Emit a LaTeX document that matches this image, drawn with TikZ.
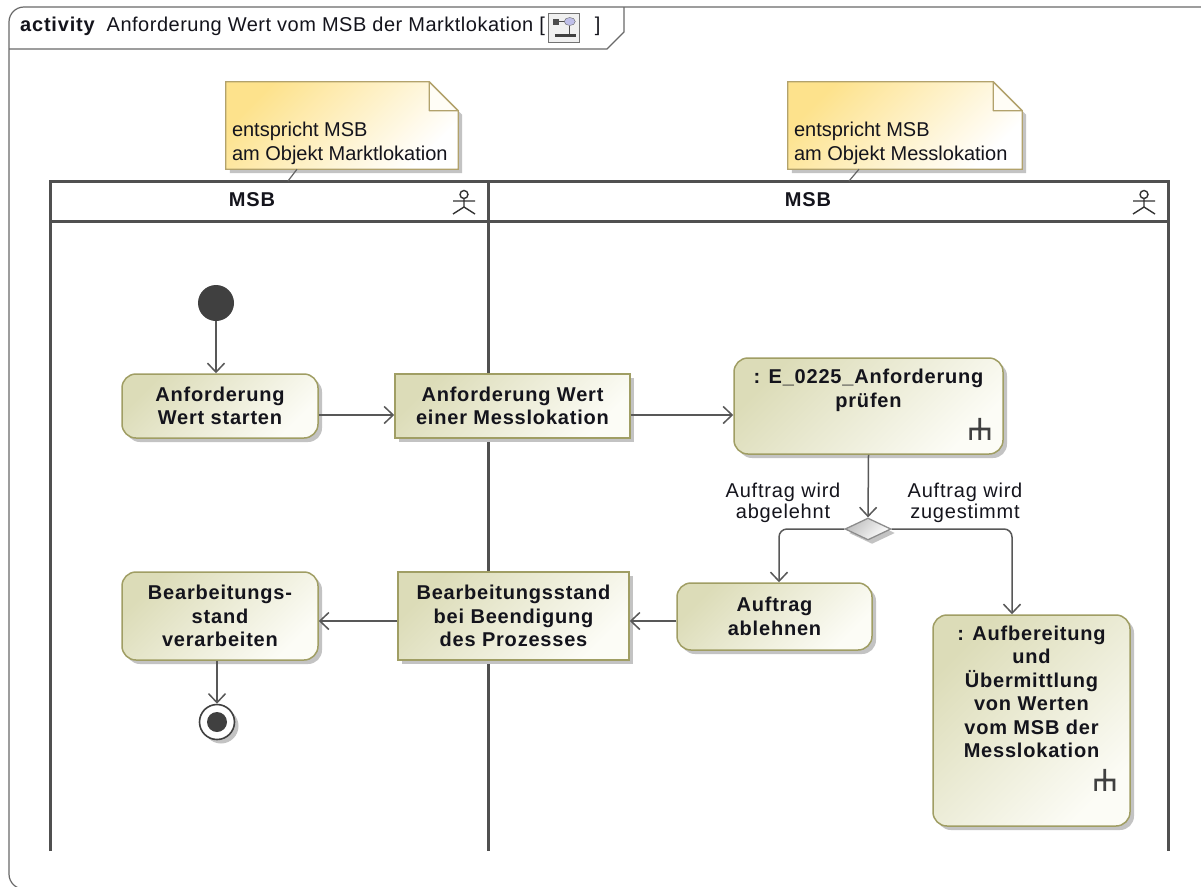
\documentclass[tikz,border=0pt]{standalone}
\usepackage{fontspec}
\setmainfont{Liberation Sans}
\newfontfamily\spacedfont[LetterSpace=4]{Liberation Sans}
\newfontfamily\titlefont[LetterSpace=2.5]{Liberation Sans}
\usetikzlibrary{arrows.meta,shapes.geometric,shadows,calc}
\pgfdeclarelayer{bg}
\pgfsetlayers{bg,main}
\definecolor{actborder}{RGB}{160,158,100}
\definecolor{actfill}{RGB}{220,220,184}
\definecolor{actlight}{RGB}{252,252,246}
\definecolor{shadowcol}{RGB}{195,195,195}
\definecolor{notecol}{RGB}{253,226,140}
\definecolor{noteborder}{RGB}{178,162,108}
\definecolor{lanecol}{RGB}{80,80,80}
\definecolor{linecol}{RGB}{88,88,88}
\definecolor{txt}{RGB}{20,20,28}
\definecolor{framecol}{RGB}{105,105,105}
\definecolor{initcol}{RGB}{64,64,64}
\tikzset{
  boldtxt/.style={font=\fontsize{20}{23.5}\selectfont\spacedfont\bfseries, text=txt},
  shadowed/.style={drop shadow={shadow xshift=4pt,shadow yshift=-4pt,fill=shadowcol,opacity=1}},
  action/.style={boldtxt, draw=actborder, line width=1.5pt, rounded corners=14pt,
    top color=actfill, bottom color=actlight, shading angle=45, shadowed,
    align=center, inner sep=0pt},
  objnode/.style={action, sharp corners},
  decision/.style={diamond, draw=black!45, line width=1.3pt, top color=black!25,
    bottom color=white, shading angle=45, shadowed, minimum width=46pt,
    minimum height=22pt, inner sep=0pt},
  initst/.style={circle, fill=initcol, minimum size=36pt, inner sep=0pt},
  finalst/.style={circle, draw=initcol, line width=1.6pt, fill=white, shadowed,
    minimum size=35pt, inner sep=0pt,
    path picture={\fill[initcol] (path picture bounding box.center) circle (10pt);}},
  flow/.style={draw=linecol, line width=1.5pt,
    -{Straight Barb[length=9pt,width=17pt]}},
  lbl/.style={font=\fontsize{20}{21.5}\selectfont\spacedfont, text=txt, align=center, inner sep=0pt},
  hdr/.style={boldtxt, inner sep=0pt},
  notetext/.style={font=\fontsize{20}{24}\selectfont, text=txt, inner sep=0pt},
  notefill/.style={draw=noteborder, line width=1.3pt, top color=notecol,
    bottom color=white, shading angle=45, shadowed},
  notelink/.style={draw=black!60, line width=1.2pt},
  lane/.style={draw=lanecol, line width=3pt},
  framel/.style={draw=framecol, line width=1.2pt},
  actor/.pic={\draw[line width=1.4pt, draw=black!80] (0,-8.5) circle (4pt)
     (0,-4.5)--(0,4) (-11,-2)--(11,-2) (-11,11)--(0,4)--(11,11);},
  rake/.pic={\fill[black!75] (-1.3,0) rectangle (1.3,-22)
     (-10.5,-9.5) rectangle (10.5,-12.2)
     (-10.5,0) rectangle (-7.9,-11) (7.9,0) rectangle (10.5,-11);}
}
\begin{document}
\begin{tikzpicture}[x=1pt,y=-1pt]
\useasboundingbox (0,0) rectangle (1201,886);
\clip (0,0) rectangle (1201,886);
\begin{pgfonlayer}{bg}
\fill[white] (0,0) rectangle (1201,886);
\end{pgfonlayer}

% frame and title tab
\draw[framel, rounded corners=15pt] (9,889) -- (9,7) -- (1216,7) -- (1216,889) -- cycle;
\draw[framel] (9,49) -- (607,49) -- (624,32) -- (624,7);
\node[anchor=west, inner sep=0pt, text=txt, font=\fontsize{20}{24}\selectfont\titlefont] (title) at (20,26)
  {{\spacedfont\bfseries activity}\hspace{12pt}Anforderung Wert vom MSB der Marktlokation [\hspace{50pt}]};
\coordinate (ic) at ($(title.east)+(-37,1.5)$);
\begin{scope}[shift={(ic)}]
  \draw[black!55, line width=1pt, fill=black!6] (-15.5,-14.5) rectangle (15.5,14.5);
  \fill[black!70] (-11,-9) rectangle (-5,-3);
  \draw[black!70, line width=1pt] (-5,-6) -- (1,-6);
  \draw[black!60, fill=black!35!blue!25] (6,-6) ellipse (5.5pt and 4pt);
  \draw[black!70, line width=1.2pt] (6,-2) -- (6,6);
  \draw[black!75, line width=2.5pt] (-9,8) -- (12,8);
\end{scope}

% swimlanes
\draw[lane] (50,851) -- (50,181) -- (1168,181) -- (1168,851);
\draw[lane] (488,181) -- (488,851);
\draw[lane] (50,221) -- (1168,221);
\node[hdr] (h1) at (252,200) {MSB};
\node[hdr] (h2) at (808,200) {MSB};
\pic at (464,203) {actor};
\pic at (1144,203) {actor};

% notes
\node[notetext, minimum width=232pt, minimum height=87pt] (n1) at (342,125.5)
  {\parbox[c][75pt][b]{220pt}{\raggedright entspricht MSB\\am Objekt Marktlokation}};
\node[notetext, minimum width=234pt, minimum height=87pt] (n2) at (905,125.5)
  {\parbox[c][75pt][b]{222pt}{\raggedright entspricht MSB\\am Objekt Messlokation}};
\begin{pgfonlayer}{bg}
\path[notefill] (n1.north west) -- ([xshift=-29pt]n1.north east) -- ([yshift=-29pt]n1.north east) -- (n1.south east) -- (n1.south west) -- cycle;
\path[notefill] (n2.north west) -- ([xshift=-29pt]n2.north east) -- ([yshift=-29pt]n2.north east) -- (n2.south east) -- (n2.south west) -- cycle;
\end{pgfonlayer}
\filldraw[draw=noteborder, fill=white!92!notecol, line width=1.3pt, line join=round]
  ([xshift=-29pt]n1.north east) |- ([yshift=-29pt]n1.north east) -- cycle;
\filldraw[draw=noteborder, fill=white!92!notecol, line width=1.3pt, line join=round]
  ([xshift=-29pt]n2.north east) |- ([yshift=-29pt]n2.north east) -- cycle;
\coordinate (c1) at (288,181);
\coordinate (c2) at (849,181);
\draw[notelink] ([xshift=-45pt]n1.south) -- (c1);
\draw[notelink] ([xshift=-46pt]n2.south) -- (c2);

% activity nodes
\node[initst] (init) at (216,303) {};
\node[action, minimum width=196pt, minimum height=64pt] (a1) at (220,406) {Anforderung\\Wert starten};
\node[objnode, minimum width=235pt, minimum height=64pt] (o1) at (512.5,406) {Anforderung Wert\\einer Messlokation};
\node[action, minimum width=269pt, minimum height=96pt] (a3) at (868.5,406)
  {\parbox[c][73pt][t]{260pt}{\centering : E\_0225\_Anforderung\\prüfen}};
\node[decision] (d) at (868,529) {};
\node[action, minimum width=195pt, minimum height=67pt] (a4) at (774.5,616.5) {Auftrag\\ablehnen};
\node[action, minimum width=197pt, minimum height=211pt] (a5) at (1031.5,720.5)
  {\parbox[c][190pt][t]{190pt}{\centering : Aufbereitung\\und\\Übermittlung\\von Werten\\vom MSB der\\Messlokation}};
\node[objnode, minimum width=231pt, minimum height=88pt] (o2) at (513.5,616) {Bearbeitungsstand\\bei Beendigung\\des Prozesses};
\node[action, minimum width=196pt, minimum height=88pt] (a6) at (220,616) {Bearbeitungs-\\stand\\verarbeiten};
\node[finalst] (fin) at (217,722) {};
\pic at ($(a3.south east)+(-24,-15)$) {rake};
\pic at ($(a5.south east)+(-26,-36)$) {rake};

% guard labels
\node[lbl] (l1) at (783,503) {Auftrag wird\\abgelehnt};
\node[lbl] (l2) at (965,503) {Auftrag wird\\zugestimmt};

% flows
\draw[flow] (init.south) -- (init.south |- a1.north);
\draw[flow] ([yshift=-9pt]a1.east) -- ([yshift=-9pt]o1.west);
\draw[flow] ([yshift=-9pt]o1.east) -- ([yshift=-9pt]a3.west);
\draw[flow] (a3.south) -- (d.north);
\draw[flow, rounded corners=8pt] (d.west) -| ([xshift=4.5pt]a4.north);
\draw[flow, rounded corners=8pt] (d.east) -| ([xshift=-19.5pt]a5.north);
\draw[flow] ([yshift=-4.5pt]a4.west) -- ([yshift=-5pt]o2.east);
\draw[flow] ([yshift=-5pt]o2.west) -- ([yshift=-5pt]a6.east);
\draw[flow] (fin.north |- a6.south) -- (fin.north);
\end{tikzpicture}
\end{document}
